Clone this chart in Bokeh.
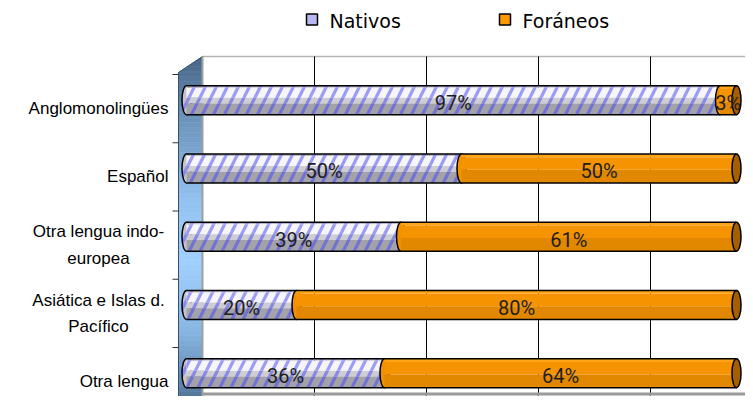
from bokeh.plotting import figure
from bokeh.models import Range1d, ColumnDataSource
from bokeh.transform import dodge
from bokeh.core.properties import value
from bokeh.embed import file_html
from bokeh.resources import INLINE

# ---------------- data ----------------
categories = ["Anglomonolingües", "Español", "Otra lengua indo-\neuropea",
              "Asiática e Islas d.\nPacífico", "Otra lengua"]
nativos = [97, 50, 39, 20, 36]
foraneos = [3, 50, 61, 80, 64]
x_ticks = [0, 20, 40, 60, 80, 100]
series_names = ["Nativos", "Foráneos"]

# ---------------- geometry (figure px) ----------------
W, H = 745, 396

FX0, K = 186, 5.50      # front plane: 0 % position and px per %
BX0, KB = 202, 5.60     # back wall: 0 % position and px per %
FY0, BH = 74, 68.25     # top of first category band, band height

x_range = Range1d(-FX0 / K, (W - FX0) / K)
y_range = Range1d((H - FY0) / BH - 0.5, -FY0 / BH - 0.5)   # flipped

p = figure(width=W, height=H, x_range=x_range, y_range=y_range,
           output_backend="svg", toolbar_location=None,
           x_axis_type=None, y_axis_type=None, min_border=0,
           outline_line_color=None, background_fill_color="white",
           border_fill_color="white")
p.extra_x_ranges = {"px": Range1d(0, W), "back": Range1d(-BX0 / KB, (W - BX0) / KB)}
p.extra_y_ranges = {"px": Range1d(H, 0)}

# ---------------- left (side) wall with vertical gradient ----------------
def hex2rgb(h):
    return tuple(int(h[i:i + 2], 16) for i in (1, 3, 5))

stops = [(56, "#456585"), (120, "#6c94bc"), (200, "#92c2ef"), (262, "#a0d0ff"),
         (330, "#88b6e2"), (380, "#6189b1"), (411, "#456585")]

def grad(y):
    for (y0, c0), (y1, c1) in zip(stops[:-1], stops[1:]):
        if y0 <= y <= y1:
            t = (y - y0) / (y1 - y0)
            a, b = hex2rgb(c0), hex2rgb(c1)
            return "#%02x%02x%02x" % tuple(int(round(a[i] + (b[i] - a[i]) * t)) for i in range(3))
    return stops[-1][1]

WL, WR, WT_F, WT_B, WB_B, WB_F = 178, 202, 72, 56, 397, 411

def xl(y):
    return WL + (WT_F - y) * (WR - WL) / (WT_F - WT_B) if y < WT_F else WL

def xr(y):
    return WR - (y - WB_B) * (WR - WL) / (WB_F - WB_B) if y > WB_B else WR

n_strips = 70
ys = sorted(set([WT_B + (WB_F - WT_B) * k / n_strips for k in range(n_strips + 1)] + [WT_F, WB_B]))
wx, wy, wc = [], [], []
for a, b in zip(ys[:-1], ys[1:]):
    wx.append([xl(a), xr(a), xr(b), xl(b)])
    wy.append([a, a, b, b])
    wc.append(grad((a + b) / 2))
p.patches(xs=wx, ys=wy, fill_color=wc, line_color=wc, line_width=0.6,
          x_range_name="px", y_range_name="px")
p.patch(x=[WL, WR, WR, WL], y=[WT_F, WT_B, WB_B, WB_F],
        fill_color=None, line_color="#34506c", line_width=1,
        x_range_name="px", y_range_name="px")

# back-wall frame
p.line(x=[WR, W], y=[WT_B, WT_B], line_color="#b4b4b4", line_width=1.5,
       x_range_name="px", y_range_name="px")
p.line(x=[WR, WR], y=[WT_B, WB_B], line_color="#a0a0a0", line_width=2,
       x_range_name="px", y_range_name="px")

# vertical grid lines on back wall
grid_src = ColumnDataSource(dict(t=x_ticks[1:]))
p.segment(x0="t", x1="t", y0=WT_B, y1=393, source=grid_src,
          line_color="black", line_width=1, x_range_name="back", y_range_name="px")

# floor edge
p.line(x=[WR, W], y=[393.5, 393.5], line_color="#9a9a9a", line_width=3,
       x_range_name="px", y_range_name="px")

# diagonal floor ticks
ft_x0 = [BX0 + t * KB for t in x_ticks[1:]]
ft_x1 = [v - 22 for v in ft_x0]
p.segment(x0=ft_x0, x1=ft_x1, y0=395, y1=411, line_color="#333333",
          line_width=1, x_range_name="px", y_range_name="px")

# category axis ticks (band boundaries)
bounds = [i - 0.5 for i in range(len(categories) + 1)]
p.segment(x0=172, x1=178, y0=bounds, y1=bounds, line_color="#333333",
          line_width=1, x_range_name="px")

# ---------------- category labels ----------------
lab_x = [98 if "\n" in c else 168 for c in categories]
lab_al = ["center" if "\n" in c else "right" for c in categories]
lab_src = ColumnDataSource(dict(idx=list(range(len(categories))), text=categories,
                                x=lab_x, al=lab_al))
p.text(x="x", y="idx", text="text", source=lab_src, x_range_name="px",
       text_align="al", text_baseline="middle", text_font=value("Liberation Sans"),
       text_font_size="17px", text_color="black", text_line_height=1.4)

# ---------------- bars (3-D cylinder look) ----------------
H_D = 29 / BH          # bar thickness in y units
SHIFT = -8.5 / BH      # bars sit slightly above band centre (3-D offset)
idx = list(range(len(categories)))
total = [n + f for n, f in zip(nativos, foraneos)]
src = ColumnDataSource(dict(
    idx=idx, nat=nativos, fora=foraneos, total=total,
    nat_mid=[n / 2 for n in nativos],
    for_mid=[n + f / 2 for n, f in zip(nativos, foraneos)],
    nat_lbl=[f"{n}%" for n in nativos],
    for_lbl=[f"{f}%" for f in foraneos],
))

def ystrip(f0, f1):
    return dodge("idx", SHIFT + ((f0 + f1) / 2 - 0.5) * H_D)

HATCH = dict(hatch_pattern="/", hatch_scale=22, hatch_weight=3.2)

# left cap of Nativos
p.ellipse(x=0, y=dodge("idx", SHIFT), width=9, height=29, width_units="screen",
          height_units="screen", source=src, fill_color="#c4c4ca",
          hatch_color="#8888ee", line_color="black", line_width=1.5, **HATCH)

nat_strips = [(0.0, 0.07, "#bcbcc4", "#8a8ae8"), (0.07, 0.42, "#f6f6fa", "#9c9cf6"),
              (0.42, 0.62, "#cdcdd2", "#8888e6"), (0.62, 1.0, "#a2a2a8", "#7272d6")]
for f0, f1, fc, hc in nat_strips:
    p.hbar(y=ystrip(f0, f1), height=(f1 - f0) * H_D, left=0, right="nat", source=src,
           fill_color=fc, hatch_color=hc, line_color=None, **HATCH)

# left cap of Foráneos
p.ellipse(x="nat", y=dodge("idx", SHIFT), width=9, height=29, width_units="screen",
          height_units="screen", source=src, fill_color="#f29000",
          line_color="black", line_width=1.5)

for_strips = [(0.0, 0.12, "#ffa418"), (0.12, 0.55, "#f59400"), (0.55, 1.0, "#e28800")]
for f0, f1, fc in for_strips:
    p.hbar(y=ystrip(f0, f1), height=(f1 - f0) * H_D, left="nat", right="total",
           source=src, fill_color=fc, line_color=None)

# right end face
p.ellipse(x="total", y=dodge("idx", SHIFT), width=9, height=29, width_units="screen",
          height_units="screen", source=src, fill_color="#a35f00",
          line_color="black", line_width=1.5)

# top / bottom outlines
for edge in (-0.5, 0.5):
    p.segment(x0=0, x1="total", y0=dodge("idx", SHIFT + edge * H_D),
              y1=dodge("idx", SHIFT + edge * H_D), source=src,
              line_color="black", line_width=1.5)

# percentage labels
for xcol, tcol in (("nat_mid", "nat_lbl"), ("for_mid", "for_lbl")):
    p.text(x=xcol, y=dodge("idx", SHIFT + 3 / BH), text=tcol, source=src,
           text_align="center", text_baseline="middle",
           text_font=value("Roboto"), text_font_size="20px",
           text_color="#1e1e1e")

# ---------------- legend (drawn manually) ----------------
leg_src = ColumnDataSource(dict(
    name=series_names,
    ix=[311.5, 504.5],
    tx=[329, 522],
    fill=["#b8b8f2", "#ff9900"],
))
p.rect(x="ix", y=19, width=11, height=11, width_units="screen", height_units="screen",
       source=leg_src, fill_color="fill", line_color="black", line_width=1.5,
       x_range_name="px", y_range_name="px")
p.text(x="tx", y=20, text="name", source=leg_src, text_align="left",
       text_baseline="middle", text_font=value("DejaVu Sans"), text_font_size="19px",
       text_color="black", x_range_name="px", y_range_name="px")

open("out.html", "w").write(file_html(p, INLINE))
